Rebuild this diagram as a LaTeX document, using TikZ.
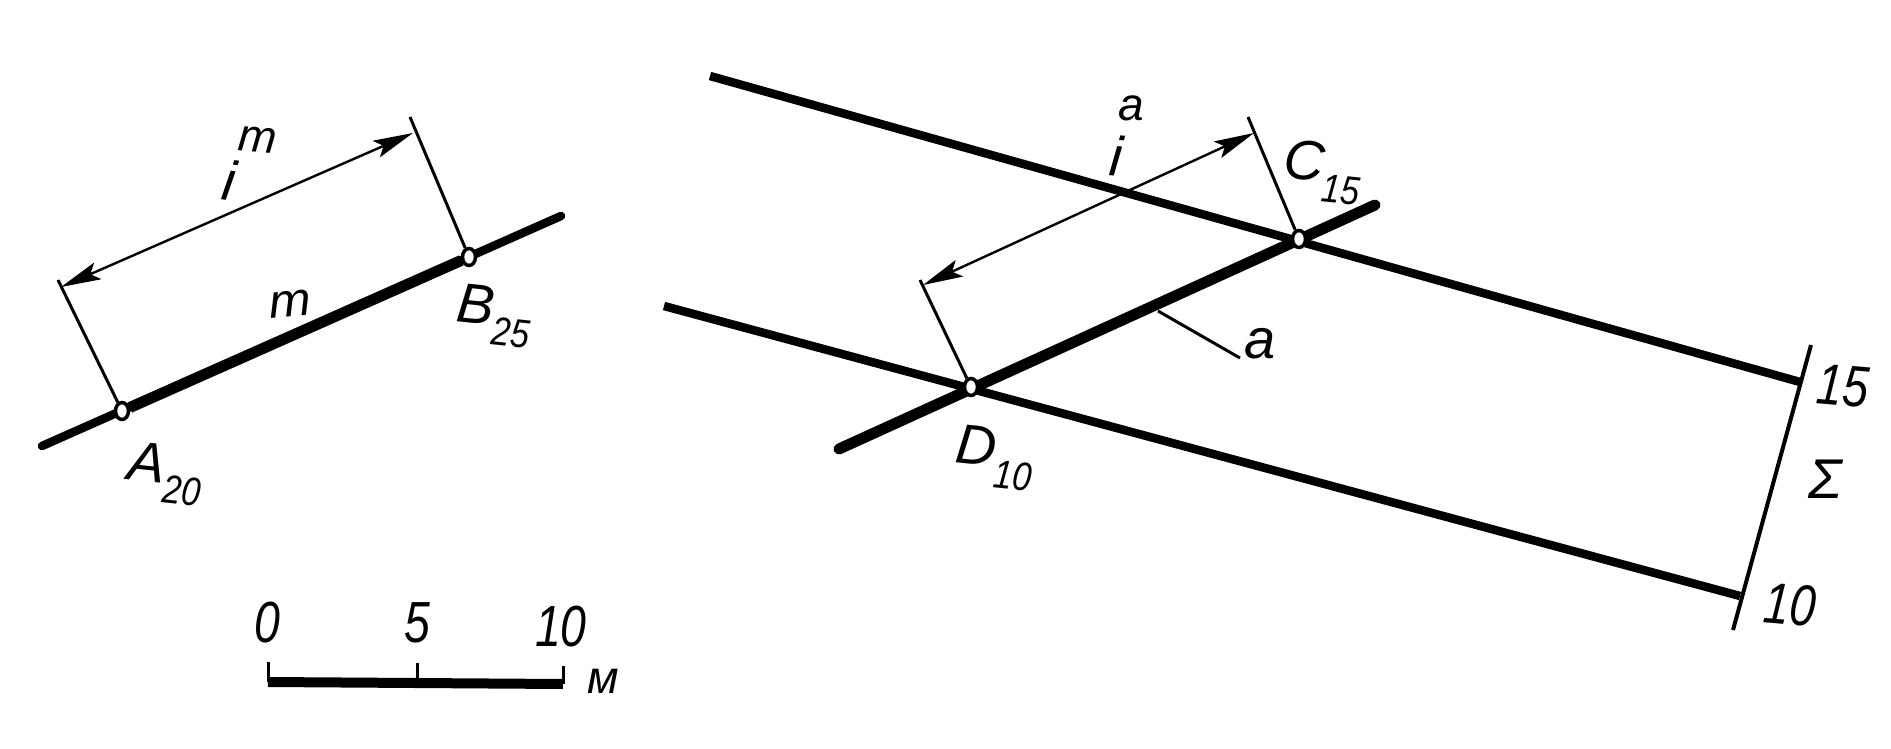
\documentclass[tikz,border=0pt]{standalone}
\usepackage{fontspec}
\setmainfont{Liberation Sans}
\usetikzlibrary{arrows.meta,shapes.geometric}
\newcommand{\subtxt}[1]{\raisebox{-0.36em}{\fontsize{40}{40}\selectfont\scalebox{.85}[1]{#1}}}
\newcommand{\nrw}[1]{\scalebox{.8}[1]{#1}}
\tikzset{
  x=1pt,y=-1pt,
  heavy/.style={line width=8.5pt,line cap=round},
  heavier/.style={line width=11pt,line cap=round},
  thin line/.style={line width=3pt},
  dim/.style={line width=2.4pt,{Stealth[length=40pt,width=18pt,inset=8pt]}-{Stealth[length=40pt,width=18pt,inset=8pt]}},
  pt/.style={ellipse,draw,fill=white,line width=3.5pt,minimum width=13pt,minimum height=17pt,inner sep=0pt},
  lab/.style={font=\fontsize{56}{56}\selectfont\itshape,inner sep=0pt},
  num/.style={font=\fontsize{58}{58}\selectfont\itshape,inner sep=0pt},
  sup/.style={font=\fontsize{46}{46}\selectfont\itshape,inner sep=0pt},
}
\begin{document}
\begin{tikzpicture}
\useasboundingbox (0,0) rectangle (1891,749);
% left figure
\coordinate (m1) at (42,446);
\coordinate (m2) at (561,216);
\coordinate (t1) at (58,280);
\coordinate (t2) at (410,117);
\coordinate (d1) at (61,287);
\coordinate (d2) at (413,133);
\draw[heavy] (m1) -- (m2);
\node[pt] (A) at (122,411) {};
\node[pt] (B) at (469,257) {};
\draw[heavier,line cap=butt] (A) -- (B);
\draw[thin line] (t1) -- (A);
\draw[thin line] (t2) -- (B);
\draw[dim] (d1) -- (d2);
\node[lab,rotate=-8] (li) at (229,180) {i};
\node[sup,rotate=-5] (lim) at (258,140) {m};
\node[lab,rotate=5] (lm) at (290,304) {\scalebox{.9}[.85]{m}};
\node[lab,rotate=-6] (lA) at (165,474) {A\subtxt{20}};
\node[lab,rotate=-6] (lB) at (494,316) {B\subtxt{25}};
% right figure
\coordinate (u1) at (710,76);
\coordinate (u2) at (1800,382);
\coordinate (w1) at (664,306);
\coordinate (w2) at (1740,596);
\coordinate (a1) at (839,449);
\coordinate (a2) at (1375,205);
\coordinate (s1) at (1811,345);
\coordinate (s2) at (1733,630);
\coordinate (t3) at (920,280);
\coordinate (t4) at (1248,117);
\coordinate (d3) at (923,285);
\coordinate (d4) at (1254,133);
\coordinate (q1) at (1158,311);
\coordinate (q2) at (1240,358);
\draw[heavy,line cap=butt] (u1) -- (u2);
\draw[heavy,line cap=butt] (w1) -- (w2);
\draw[heavier] (a1) -- (a2);
\node[pt] (C) at (1299,239) {};
\node[pt] (D) at (971,387) {};
\draw[line width=4pt] (s1) -- (s2);
\draw[thin line] (t3) -- (D);
\draw[thin line] (t4) -- (C);
\draw[dim] (d3) -- (d4);
\draw[thin line] (q1) -- (q2);
\node[lab,rotate=-5] (li2) at (1116,156) {i};
\node[sup] (lia) at (1131,108) {a};
\node[lab] (la) at (1260,344) {a};
\node[lab,rotate=-6] (lC) at (1322,172) {C\subtxt{15}};
\node[lab,rotate=-6] (lD) at (994,458) {D\subtxt{10}};
\node[num,rotate=-5] (l15) at (1843,386) {\nrw{15}};
\node[num,rotate=-5] (l10) at (1790,605) {\nrw{10}};
\node[lab] (lS) at (1825,479) {Σ};
% scale bar
\coordinate (b0) at (268,682);
\coordinate (b1) at (417,683);
\coordinate (b2) at (563,684);
\coordinate (b0t) at (268,662);
\coordinate (b1t) at (417,663);
\coordinate (b2t) at (563,666);
\draw[line width=10pt] (b0) -- (b2);
\draw[thin line] (b0t) -- (b0);
\draw[thin line] (b1t) -- (b1);
\draw[thin line] (b2t) -- (b2);
\node[num] (n0) at (267,623) {\nrw{0}};
\node[num] (n5) at (417,623) {\nrw{5}};
\node[num] (n10) at (561,627) {\nrw{10}};
\node[sup] (nm) at (603,681) {м};
\end{tikzpicture}
\end{document}
